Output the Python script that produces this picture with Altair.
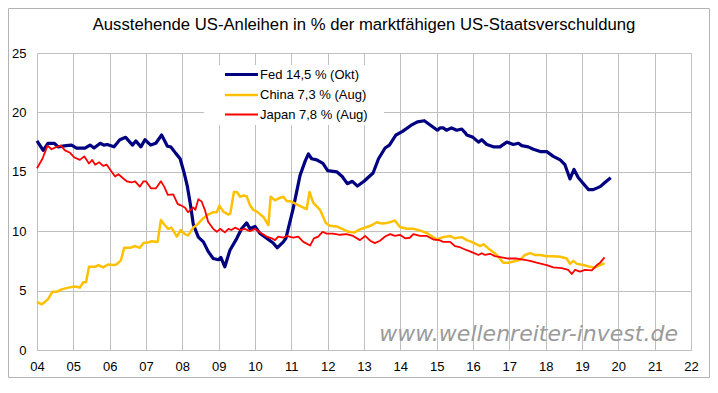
import json
import pandas as pd
import altair as alt

title_text = "Ausstehende US-Anleihen in % der marktfähigen US-Staatsverschuldung"
series_names = ["Fed 14,5 % (Okt)", "China 7,3 % (Aug)", "Japan 7,8 % (Aug)"]
series_colors = ["#000080", "#FFC000", "#FF0000"]
series_widths = [3.2, 1.8, 1.8]

fed_x = [2004.0, 2004.17, 2004.3, 2004.48, 2004.58, 2004.8, 2004.95, 2005.09, 2005.32, 2005.46,
         2005.57, 2005.74, 2005.84, 2005.93, 2006.12, 2006.28, 2006.44, 2006.63, 2006.72, 2006.86,
         2006.97, 2007.13, 2007.27, 2007.43, 2007.59, 2007.68, 2007.82, 2007.94, 2008.05, 2008.14,
         2008.23, 2008.3, 2008.44, 2008.58, 2008.71, 2008.85, 2008.99, 2009.06, 2009.17, 2009.31,
         2009.5, 2009.63, 2009.77, 2009.86, 2010.0, 2010.14, 2010.32, 2010.5, 2010.61, 2010.78,
         2010.85, 2011.05, 2011.24, 2011.38, 2011.47, 2011.56, 2011.7, 2011.87, 2012.0, 2012.25,
         2012.4, 2012.54, 2012.68, 2012.82, 2013.0, 2013.25, 2013.4, 2013.58, 2013.7, 2013.88,
         2014.06, 2014.29, 2014.47, 2014.66, 2014.84, 2015.02, 2015.1, 2015.18, 2015.27, 2015.41,
         2015.55, 2015.69, 2015.78, 2015.83, 2016.0, 2016.15, 2016.24, 2016.38, 2016.56, 2016.74,
         2016.93, 2017.11, 2017.25, 2017.34, 2017.52, 2017.66, 2017.85, 2018.03, 2018.21, 2018.4,
         2018.53, 2018.67, 2018.78, 2018.9, 2019.04, 2019.18, 2019.31, 2019.5, 2019.63, 2019.79]
fed_y = [17.6, 16.8, 17.4, 17.4, 17.1, 17.2, 17.25, 17.0, 17.0, 17.25,
         17.0, 17.4, 17.25, 17.3, 17.1, 17.7, 17.9, 17.25, 17.6, 17.1,
         17.7, 17.25, 17.4, 18.1, 17.15, 17.1, 16.55, 16.1, 14.9, 13.75,
         12.1, 10.6, 9.5, 9.1, 8.3, 7.7, 7.6, 7.8, 7.0, 8.4,
         9.4, 10.2, 10.7, 10.2, 10.4, 9.8, 9.4, 9.0, 8.6, 9.1,
         9.4, 11.9, 14.7, 15.9, 16.5, 16.1, 16.0, 15.7, 15.1, 15.0,
         14.6, 14.0, 14.2, 13.8, 14.2, 14.9, 16.1, 17.0, 17.25, 18.1,
         18.4, 18.9, 19.2, 19.3, 18.9, 18.5, 18.7, 18.7, 18.5, 18.7,
         18.5, 18.6, 18.3, 18.1, 17.9, 17.5, 17.7, 17.3, 17.1, 17.1,
         17.5, 17.3, 17.4, 17.2, 17.1, 16.9, 16.7, 16.7, 16.3, 16.0,
         15.6, 14.4, 15.2, 14.5, 14.0, 13.5, 13.5, 13.75, 14.1, 14.5]

china_x = [2004.0, 2004.13, 2004.22, 2004.31, 2004.42, 2004.54, 2004.68, 2004.86, 2005.05, 2005.18,
           2005.27, 2005.35, 2005.43, 2005.6, 2005.69, 2005.82, 2005.96, 2006.1, 2006.19, 2006.31,
           2006.4, 2006.56, 2006.7, 2006.83, 2006.93, 2007.05, 2007.16, 2007.32, 2007.41, 2007.52,
           2007.61, 2007.7, 2007.85, 2007.96, 2008.07, 2008.16, 2008.3, 2008.44, 2008.58, 2008.71,
           2008.85, 2008.95, 2009.02, 2009.13, 2009.27, 2009.32, 2009.42, 2009.5, 2009.59, 2009.68,
           2009.77, 2009.86, 2009.95, 2010.05, 2010.23, 2010.37, 2010.43, 2010.55, 2010.64, 2010.78,
           2010.87, 2011.0, 2011.19, 2011.29, 2011.42, 2011.5, 2011.6, 2011.79, 2011.95, 2012.06,
           2012.25, 2012.43, 2012.57, 2012.74, 2012.89, 2013.08, 2013.21, 2013.35, 2013.49, 2013.63,
           2013.76, 2013.85, 2013.99, 2014.18, 2014.36, 2014.55, 2014.73, 2014.86, 2015.0, 2015.18,
           2015.37, 2015.5, 2015.69, 2015.83, 2015.96, 2016.1, 2016.19, 2016.29, 2016.42, 2016.6,
           2016.74, 2016.83, 2016.97, 2017.11, 2017.3, 2017.43, 2017.57, 2017.71, 2017.85, 2018.03,
           2018.21, 2018.4, 2018.58, 2018.67, 2018.76, 2018.86, 2019.04, 2019.22, 2019.36, 2019.5,
           2019.62]
china_y = [4.05, 3.85, 4.05, 4.3, 4.9, 4.9, 5.1, 5.25, 5.35, 5.25,
           5.7, 5.7, 7.0, 7.0, 7.15, 6.95, 7.2, 7.15, 7.2, 7.55,
           8.6, 8.6, 8.75, 8.6, 9.0, 9.05, 9.15, 9.1, 10.95, 10.5,
           10.2, 10.3, 9.55, 10.1, 9.75, 9.65, 10.3, 10.65, 11.1, 11.4,
           11.6, 11.6, 12.15, 11.65, 11.4, 11.5, 13.3, 13.3, 12.9, 13.0,
           12.95, 12.2, 11.8, 11.65, 11.2, 10.5, 12.9, 12.6, 12.75, 12.9,
           12.55, 12.5, 12.2, 12.05, 11.85, 13.3, 12.4, 11.8, 10.7, 10.45,
           10.4, 10.15, 9.95, 9.9, 10.15, 10.35, 10.5, 10.75, 10.65, 10.7,
           10.8, 10.9, 10.35, 10.2, 10.2, 10.05, 9.85, 9.6, 9.3, 9.5,
           9.6, 9.4, 9.5, 9.25, 9.1, 8.9, 8.75, 8.9, 8.55, 8.15,
           7.7, 7.35, 7.35, 7.45, 7.6, 8.0, 8.15, 8.0, 8.0, 7.9,
           7.9, 7.85, 7.7, 7.25, 7.5, 7.25, 7.15, 7.0, 6.95, 7.15,
           7.3]

japan_x = [2004.0, 2004.15, 2004.29, 2004.4, 2004.54, 2004.66, 2004.77, 2004.91, 2005.03, 2005.18,
           2005.3, 2005.43, 2005.52, 2005.6, 2005.71, 2005.82, 2005.92, 2006.01, 2006.15, 2006.24,
           2006.35, 2006.47, 2006.6, 2006.7, 2006.83, 2006.93, 2007.0, 2007.14, 2007.27, 2007.41,
           2007.5, 2007.6, 2007.75, 2007.87, 2007.94, 2008.07, 2008.16, 2008.3, 2008.36, 2008.44,
           2008.53, 2008.62, 2008.71, 2008.85, 2008.95, 2009.04, 2009.17, 2009.27, 2009.35, 2009.45,
           2009.59, 2009.72, 2009.86, 2010.0, 2010.14, 2010.32, 2010.46, 2010.55, 2010.64, 2010.78,
           2010.87, 2011.05, 2011.19, 2011.33, 2011.52, 2011.62, 2011.74, 2011.86, 2011.97, 2012.15,
           2012.34, 2012.52, 2012.7, 2012.89, 2013.03, 2013.17, 2013.3, 2013.44, 2013.58, 2013.72,
           2013.85, 2013.99, 2014.13, 2014.26, 2014.36, 2014.54, 2014.73, 2014.91, 2015.07, 2015.18,
           2015.37, 2015.5, 2015.64, 2015.83, 2016.0, 2016.15, 2016.24, 2016.33, 2016.47, 2016.6,
           2016.79, 2016.97, 2017.2, 2017.38, 2017.57, 2017.75, 2017.89, 2018.03, 2018.21, 2018.44,
           2018.62, 2018.72, 2018.81, 2018.95, 2019.08, 2019.27, 2019.41, 2019.5, 2019.62]
japan_y = [15.3, 16.1, 17.2, 16.9, 17.1, 17.2, 16.8, 16.6, 16.2, 16.0,
           16.3, 15.7, 16.0, 15.6, 15.8, 15.5, 15.6, 15.2, 14.6, 14.8,
           14.5, 14.2, 14.1, 14.2, 13.75, 14.2, 14.2, 13.6, 13.6, 14.2,
           13.75, 13.05, 13.1, 12.3, 12.2, 12.0, 11.6, 12.0, 11.8, 12.7,
           12.5, 11.8, 10.8, 10.2, 9.95, 10.2, 9.9, 10.2, 10.1, 10.3,
           10.1, 10.2, 10.0, 10.2, 9.9, 9.55, 9.4, 9.25, 9.55, 9.45,
           9.6, 9.45, 9.55, 9.1, 8.8, 9.4, 9.55, 9.95, 9.8, 9.8,
           9.7, 9.75, 9.6, 9.25, 9.6, 9.2, 9.0, 9.2, 9.55, 9.75,
           9.6, 9.7, 9.4, 9.45, 9.75, 9.6, 9.6, 9.3, 9.25, 9.1,
           9.1, 8.75, 8.65, 8.4, 8.2, 8.0, 8.15, 8.0, 8.1, 7.9,
           7.8, 7.7, 7.7, 7.6, 7.5, 7.35, 7.25, 7.15, 6.95, 6.9,
           6.75, 6.4, 6.75, 6.6, 6.75, 6.7, 7.15, 7.35, 7.8]

x_ticks = list(range(2004, 2023))
x_labels = ["04", "05", "06", "07", "08", "09", "10", "11", "12", "13",
            "14", "15", "16", "17", "18", "19", "20", "21", "22"]
y_ticks = [0, 5, 10, 15, 20, 25]
watermark_text = "www.wellenreiter-invest.de"
watermark_pos = {"year": 2021.64, "value": 0.76}

rows = []
for name, xs, ys in zip(series_names, [fed_x, china_x, japan_x], [fed_y, china_y, japan_y]):
    for xv, yv in zip(xs, ys):
        rows.append({"series": name, "year": xv, "value": yv})
df = pd.DataFrame(rows)

FONT = "Liberation Sans"
GRID = "#C0C0C0"

x_scale = alt.Scale(domain=[2004, 2022], nice=False, zero=False)
y_scale = alt.Scale(domain=[0, 25], nice=False)

x_axis = alt.Axis(values=x_ticks, labelExpr=json.dumps(x_labels) + "[datum.value - 2004]",
                  title=None, grid=True, ticks=False, tickSize=0, labelPadding=10,
                  labelFlush=False, labelOverlap=False, labelFontSize=13, labelFont=FONT,
                  labelColor="black", domainColor=GRID, gridColor=GRID)
y_axis = alt.Axis(values=y_ticks, title=None, grid=True, ticks=False, tickSize=0,
                  labelPadding=11, labelOverlap=False, labelFontSize=13, labelFont=FONT,
                  labelColor="black", domainColor=GRID, gridColor=GRID)

leg = alt.Legend(title=None, orient="none", legendX=197, legendY=14,
                 symbolType="M-3,0H3", symbolSize=121, labelFontSize=13, labelFont=FONT,
                 labelColor="black", labelOffset=11, rowPadding=6, padding=0, labelLimit=300)

legend_bg = alt.Chart(alt.Data(values=[{"k": 1}])).mark_rect(color="white").encode(
    x=alt.value(167), x2=alt.value(347), y=alt.value(12), y2=alt.value(72))

lines = alt.Chart(df).mark_line(strokeJoin="round").encode(
    x=alt.X("year:Q", scale=x_scale, axis=x_axis),
    y=alt.Y("value:Q", scale=y_scale, axis=y_axis),
    color=alt.Color("series:N", scale=alt.Scale(domain=series_names, range=series_colors),
                    legend=leg),
    strokeWidth=alt.StrokeWidth("series:N",
                                scale=alt.Scale(domain=series_names, range=series_widths),
                                legend=leg),
)

wm_df = pd.DataFrame([{"year": watermark_pos["year"], "value": watermark_pos["value"],
                       "t": watermark_text}])
watermark = alt.Chart(wm_df).mark_text(align="right", baseline="alphabetic", fontStyle="italic",
                                       font="DejaVu Sans", fontSize=22, color="#9A9A9A").encode(
    x=alt.X("year:Q", scale=x_scale, axis=x_axis),
    y=alt.Y("value:Q", scale=y_scale, axis=y_axis),
    text="t:N")

frame = alt.Chart(alt.Data(values=[{"k": 1}])).mark_rect(filled=False, stroke="#B4B4B4",
                                                       strokeWidth=1).encode(
    x=alt.value(-28.5), x2=alt.value(672.5), y=alt.value(-44.5), y2=alt.value(324.5))

chart = alt.layer(legend_bg, lines, watermark, frame).properties(
    width=654, height=297,
    padding={"left": 29, "top": 45, "right": 19, "bottom": 28},
    autosize=alt.AutoSizeParams(type="none"),
    title=alt.TitleParams(text=title_text, fontSize=16.7, font=FONT, fontWeight="normal",
                          anchor="middle", frame="group", offset=0, dy=39,
                          baseline="alphabetic", color="black"),
).configure_view(stroke=None)

chart.save("out.html", embed_options={"renderer": "svg", "actions": False})
